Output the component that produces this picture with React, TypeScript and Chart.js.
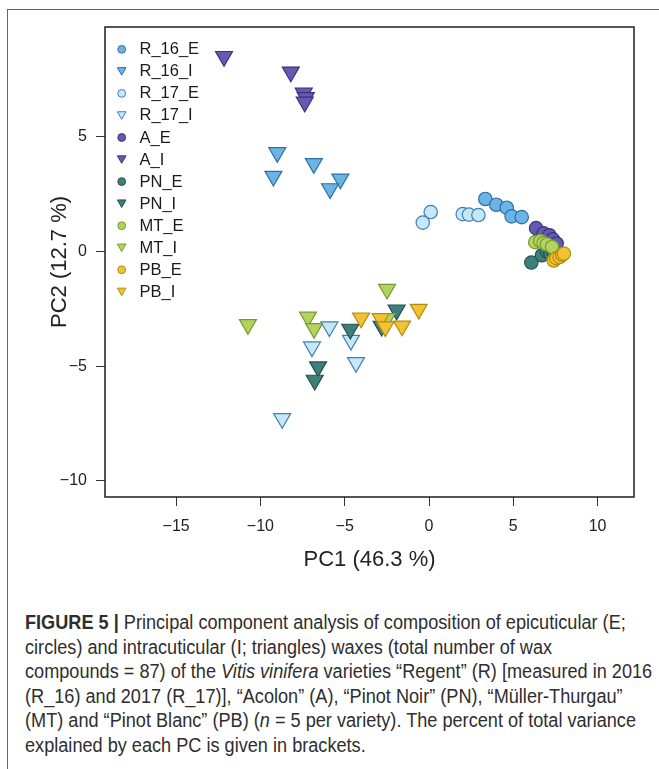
import React, { useEffect, useRef } from "react";
import { Chart, registerables } from "chart.js";
import { drawPoint } from "chart.js/helpers";

Chart.register(...registerables);

// ---------- data ----------
const groups = ["R_16_E", "R_16_I", "R_17_E", "R_17_I", "A_E", "A_I", "PN_E", "PN_I", "MT_E", "MT_I", "PB_E", "PB_I"];
const xTicks = [-15, -10, -5, 0, 5, 10];
const yTicks = [-10, -5, 0, 5];
const xTitle = "PC1 (46.3 %)";
const yTitle = "PC2 (12.7 %)";

const R_16_E = [[3.34, 2.28], [3.99, 2.03], [4.61, 1.90], [4.90, 1.52], [5.50, 1.49]];
const R_16_I = [[-9.00, 4.30], [-6.83, 3.82], [-9.23, 3.27], [-5.26, 3.15], [-5.87, 2.73]];
const R_17_E = [[0.10, 1.71], [-0.37, 1.25], [2.00, 1.62], [2.37, 1.60], [2.93, 1.58]];
const R_17_I = [[-5.91, -3.29], [-6.94, -4.16], [-4.63, -3.87], [-4.33, -4.84], [-8.71, -7.28]];
const A_E = [[6.35, 1.01], [6.80, 0.78], [7.14, 0.70], [7.35, 0.52], [7.57, 0.34]];
const A_I = [[-12.16, 8.49], [-8.20, 7.81], [-7.43, 6.90], [-7.31, 6.70], [-7.37, 6.50]];
const PN_E = [[6.07, -0.49], [6.70, -0.17], [7.00, 0.00], [7.20, -0.10], [7.40, -0.05]];
const PN_I = [[-6.58, -5.03], [-6.78, -5.61], [-4.67, -3.39], [-1.92, -2.56], [-2.81, -3.26]];
const MT_E = [[6.30, 0.40], [6.60, 0.45], [6.80, 0.36], [7.00, 0.30], [7.30, 0.19]];
const MT_I = [[-10.74, -3.19], [-7.18, -2.86], [-6.82, -3.36], [-2.49, -1.65], [-2.51, -2.93]];
const PB_E = [[7.40, -0.40], [7.55, -0.30], [7.75, -0.25], [7.90, -0.15], [8.00, -0.10]];
const PB_I = [[-4.03, -2.90], [-2.87, -2.93], [-2.59, -3.29], [-1.60, -3.25], [-0.61, -2.52]];

const series = [R_16_E, R_16_I, R_17_E, R_17_I, A_E, A_I, PN_E, PN_I, MT_E, MT_I, PB_E, PB_I];

// ---------- styles ----------
const fills = ["#6CB4E4", "#6CB4E4", "#C6E7F8", "#C6E7F8", "#6659B0", "#6659B0", "#3F7F7A", "#3F7F7A", "#B3D35F", "#B3D35F", "#F1C232", "#F1C232"];
const strokes = ["#2D6FA8", "#2D6FA8", "#3D7FB8", "#3D7FB8", "#3B3182", "#3B3182", "#24534F", "#24534F", "#789A35", "#789A35", "#B38B14", "#B38B14"];

const FONT = '"Liberation Sans", Arial, Helvetica, sans-serif';

const fmt = (v: number) => (v < 0 ? "\u2212" + Math.abs(v) : String(v));

const boxPlugin = {
  id: "plotBox",
  afterDatasetsDraw(chart: any) {
    const { ctx, chartArea: a } = chart;
    ctx.save();
    ctx.strokeStyle = "#1e1e1e";
    ctx.lineWidth = 1.5;
    ctx.strokeRect(a.left, a.top, a.right - a.left, a.bottom - a.top);
    ctx.restore();
  },
};

const legendPlugin = {
  id: "cornerLegend",
  afterDraw(chart: any) {
    const { ctx, chartArea: a } = chart;
    chart.data.datasets.forEach((ds: any, i: number) => {
      const y = a.top + 22.3 + i * 22.05;
      const x = a.left + 16.7;
      const tri = ds.pointStyle === "triangle";
      ctx.save();
      ctx.fillStyle = ds.pointBackgroundColor;
      ctx.strokeStyle = ds.pointBorderColor;
      ctx.lineWidth = 1;
      drawPoint(ctx, { pointStyle: ds.pointStyle, rotation: ds.pointRotation, radius: tri ? 5 : 3.9, borderWidth: 1 } as any, x, tri ? y - 1.2 : y);
      ctx.fillStyle = "#1a1a1a";
      ctx.font = "16.5px " + FONT;
      ctx.textBaseline = "middle";
      ctx.textAlign = "left";
      ctx.fillText(ds.label, a.left + 34.5, y + 0.5);
      ctx.restore();
    });
  },
};

export default function App() {
  const ref = useRef<HTMLCanvasElement>(null);

  useEffect(() => {
    const canvas = ref.current!;
    const chart = new Chart(canvas, {
      type: "scatter",
      data: {
        datasets: groups.map((g, i) => {
          const tri = g.endsWith("_I");
          return {
            label: g,
            data: series[i].map(([x, y]) => ({ x, y })),
            pointStyle: tri ? "triangle" : "circle",
            pointRotation: tri ? 180 : 0,
            pointRadius: tri ? 9.8 : 6.7,
            pointBackgroundColor: fills[i],
            pointBorderColor: strokes[i],
            pointBorderWidth: 1.2,
            backgroundColor: fills[i],
            borderColor: strokes[i],
            order: 100 - i,
          } as any;
        }),
      },
      options: {
        responsive: false,
        animation: false,
        devicePixelRatio: 1,
        events: [],
        layout: { padding: { top: 27, right: 25, left: 0, bottom: 0 } },
        plugins: { legend: { display: false }, tooltip: { enabled: false } },
        scales: {
          x: {
            type: "linear",
            min: -19.22,
            max: 12.16,
            afterBuildTicks: (s: any) => {
              s.ticks = xTicks.map((v) => ({ value: v }));
            },
            afterFit: (s: any) => {
              s.height = 93;
            },
            grid: { drawOnChartArea: false, drawTicks: true, tickLength: 9, color: "#333", lineWidth: 1 },
            border: { display: false },
            ticks: {
              callback: (v: any) => fmt(Number(v)),
              font: { family: FONT, size: 16 },
              color: "#222",
              padding: 11,
              maxRotation: 0,
              autoSkip: false,
            },
            title: {
              display: true,
              text: xTitle,
              font: { family: FONT, size: 22, lineHeight: 1 },
              color: "#222",
              padding: { top: 0, bottom: 19 },
            },
          },
          y: {
            type: "linear",
            min: -10.7,
            max: 9.77,
            afterBuildTicks: (s: any) => {
              s.ticks = yTicks.map((v) => ({ value: v }));
            },
            afterFit: (s: any) => {
              s.width = 105;
            },
            grid: { drawOnChartArea: false, drawTicks: true, tickLength: 9, color: "#333", lineWidth: 1 },
            border: { display: false },
            ticks: {
              callback: (v: any) => fmt(Number(v)),
              font: { family: FONT, size: 16 },
              color: "#222",
              padding: 9,
              autoSkip: false,
            },
            title: {
              display: true,
              text: yTitle,
              font: { family: FONT, size: 22, lineHeight: 1 },
              color: "#222",
              padding: { top: 49, bottom: 0 },
            },
          },
        },
      } as any,
      plugins: [boxPlugin, legendPlugin],
    });
    return () => chart.destroy();
  }, []);

  const capStyle: React.CSSProperties = {
    position: "absolute",
    left: 25,
    top: 610,
    fontFamily: '"Liberation Sans", Arial, sans-serif',
    fontSize: 19.5,
    lineHeight: "24.6px",
    color: "#2e2e2e",
    whiteSpace: "nowrap",
    transform: "scaleX(0.93)",
    transformOrigin: "0 0",
  };

  return (
    <div style={{ position: "absolute", left: 0, top: 0, width: 659, height: 769, background: "#fff", overflow: "hidden" }}>
      <div
        style={{
          position: "absolute",
          left: 7,
          top: 9,
          width: 700,
          height: 800,
          borderLeft: "1.5px solid #666",
          borderTop: "1.5px solid #666",
          boxSizing: "border-box",
        }}
      />
      <canvas ref={ref} width={659} height={590} style={{ position: "absolute", left: 0, top: 0, display: "block" }} />
      <div style={capStyle}>
        <div>
          <b>FIGURE 5 |</b> Principal component analysis of composition of epicuticular (E;
        </div>
        <div>circles) and intracuticular (I; triangles) waxes (total number of wax</div>
        <div>
          compounds = 87) of the <i>Vitis vinifera</i> varieties “Regent” (R) [measured in 2016
        </div>
        <div>(R_16) and 2017 (R_17)], “Acolon” (A), “Pinot Noir” (PN), “Müller-Thurgau”</div>
        <div>
          (MT) and “Pinot Blanc” (PB) (<i>n</i> = 5 per variety). The percent of total variance
        </div>
        <div>explained by each PC is given in brackets.</div>
      </div>
    </div>
  );
}
